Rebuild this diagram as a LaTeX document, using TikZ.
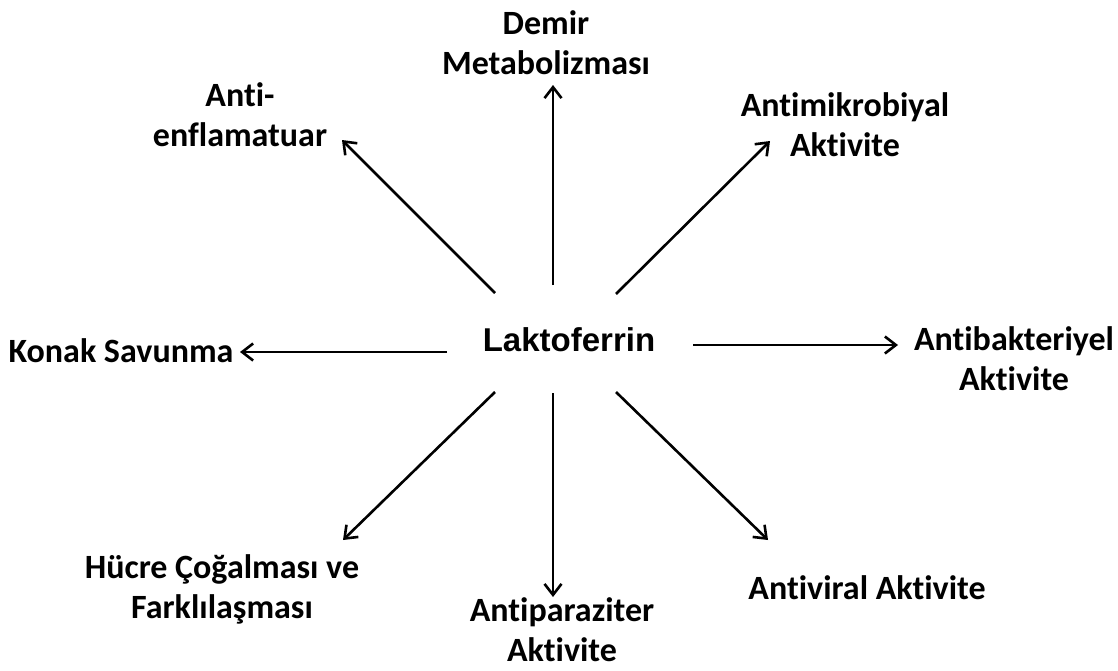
\documentclass[tikz,border=0pt]{standalone}
\usepackage{fontspec}
\setmainfont{Carlito}[Ligatures=CommonOff]
\newfontfamily\laktofont{Liberation Sans}
\usetikzlibrary{arrows.meta}
\begin{document}
\begin{tikzpicture}[x=1pt,y=-1pt]
\tikzset{etiket/.style={align=center, inner sep=0pt, font=\fontsize{34}{40}\selectfont\bfseries}}
\tikzstyle{ok} = [line width=2.6pt, -{Straight Barb[length=11pt,width=17pt,line width=2.6pt]}]
\useasboundingbox (0,0) rectangle (1118,670);
	\node[inner sep=0pt, font=\fontsize{33}{40}\laktofont\bfseries] (lakto) at (569,340) {Laktoferrin};
	\node[etiket] (demir) at (546,43) {Demir\\Metabolizması};
	\node[etiket] (anti) at (240,115) {Anti-\\enflamatuar};
	\node[etiket] (mikro) at (845,125) {Antimikrobiyal\\Aktivite};
	\node[etiket] (bakteri) at (1014,359) {Antibakteriyel\\Aktivite};
	\node[etiket] (viral) at (867,588) {Antiviral Aktivite};
	\node[etiket] (parazit) at (562,630) {Antiparaziter\\Aktivite};
	\node[etiket] (hucre) at (222,589) {Hücre Çoğalması ve\\Farklılaşması};
	\node[etiket] (konak) at (121,351) {Konak Savunma};
	\coordinate (s-ust) at (553,285);  \coordinate (e-ust) at (553,85);
	\coordinate (s-alt) at (553,393);  \coordinate (e-alt) at (553,597);
	\coordinate (s-sol) at (447,352);  \coordinate (e-sol) at (240,352);
	\coordinate (s-sag) at (693,345);  \coordinate (e-sag) at (898,345);
	\coordinate (s-usol) at (495,293); \coordinate (e-usol) at (342,140);
	\coordinate (s-usag) at (616,294); \coordinate (e-usag) at (770,141);
	\coordinate (s-asol) at (495,392); \coordinate (e-asol) at (343,540);
	\coordinate (s-asag) at (616,392); \coordinate (e-asag) at (768,540);
	\foreach \y in {ust,alt,sol,sag,usol,usag,asol,asag}
		\draw[ok] (s-\y) -- (e-\y);
\end{tikzpicture}
\end{document}
